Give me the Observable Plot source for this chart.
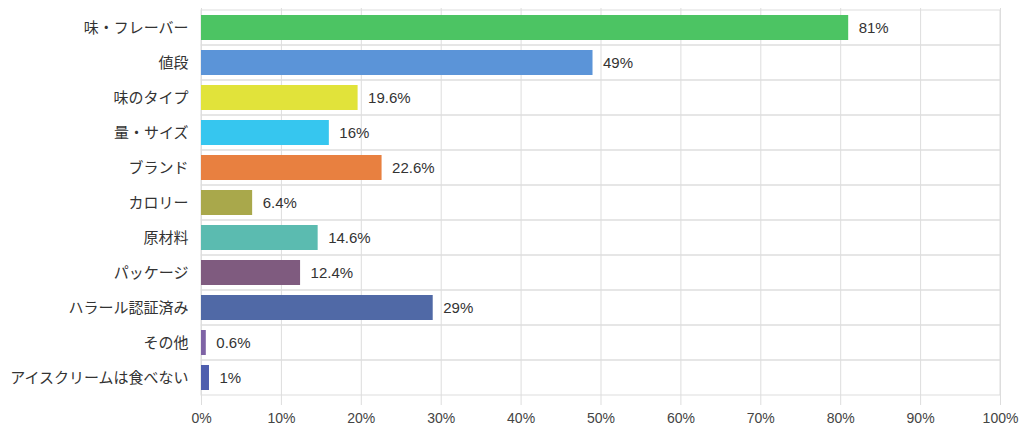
<!DOCTYPE html>
<html><head><meta charset="utf-8">
<script src="https://cdn.jsdelivr.net/npm/d3@7"></script>
<script src="https://cdn.jsdelivr.net/npm/@observablehq/plot@0.6"></script>
<style>
html,body{margin:0;padding:0;background:#fff;}
svg{font-family:"Liberation Sans","Noto Sans CJK JP",sans-serif;}
</style></head><body>
<div id="chart"></div>
<script>
const categories = ["味・フレーバー","値段","味のタイプ","量・サイズ","ブランド","カロリー","原材料","パッケージ","ハラール認証済み","その他","アイスクリームは食べない"];
const values = [81, 49, 19.6, 16, 22.6, 6.4, 14.6, 12.4, 29, 0.6, 1];
const colors = ["#4cc463","#5b94d8","#e1e33a","#36c6ef","#e88040","#a9a84b","#5bbbb0","#7f5b7f","#5069a6","#7e63a5","#4e5eae"];
const xTicks = [0,10,20,30,40,50,60,70,80,90,100];

const data = categories.map((c,i)=>({cat:c, value:values[i], color:colors[i]}));

const chart = Plot.plot({
  width: 1024,
  height: 429,
  marginLeft: 201,
  marginRight: 24,
  marginTop: 8,
  marginBottom: 32,
  style: {fontFamily: '"Liberation Sans","Noto Sans CJK JP",sans-serif', background: "#fff"},
  x: {domain: [0,100], ticks: xTicks, tickFormat: d => d + "%", label: null},
  y: {domain: categories, padding: 0, label: null},
  marks: [
    Plot.ruleX(xTicks, {stroke: "#dddddd", strokeWidth: 1}),
    Plot.barX(categories, {y: d => d, x1: 0, x2: 100, fill: "none", stroke: "#dddddd", strokeWidth: 1, insetTop: 0, insetBottom: 0, insetLeft: 0, insetRight: 0}),
    Plot.barX(data, {y: "cat", x: "value", fill: "color", insetTop: 5, insetBottom: 5}),
    Plot.text(data, {y: "cat", x: "value", text: d => d.value + "%", dx: 10, textAnchor: "start", fontSize: 15, fill: "#333", fontFamily: "Liberation Sans"}),
    Plot.axisX({ticks: xTicks, tickFormat: d => d + "%", tickSize: 8, stroke: "#dddddd", fill: "#444", tickPadding: 8, fontSize: 14, label: null, fontFamily: "Liberation Sans"}),
    Plot.axisY({tickSize: 0, tickPadding: 13, fontSize: 15, fill: "#333", label: null, fontFamily: '"Noto Sans CJK JP","Liberation Sans",sans-serif'})
  ]
});
document.getElementById("chart").appendChild(chart);
</script>
</body></html>
